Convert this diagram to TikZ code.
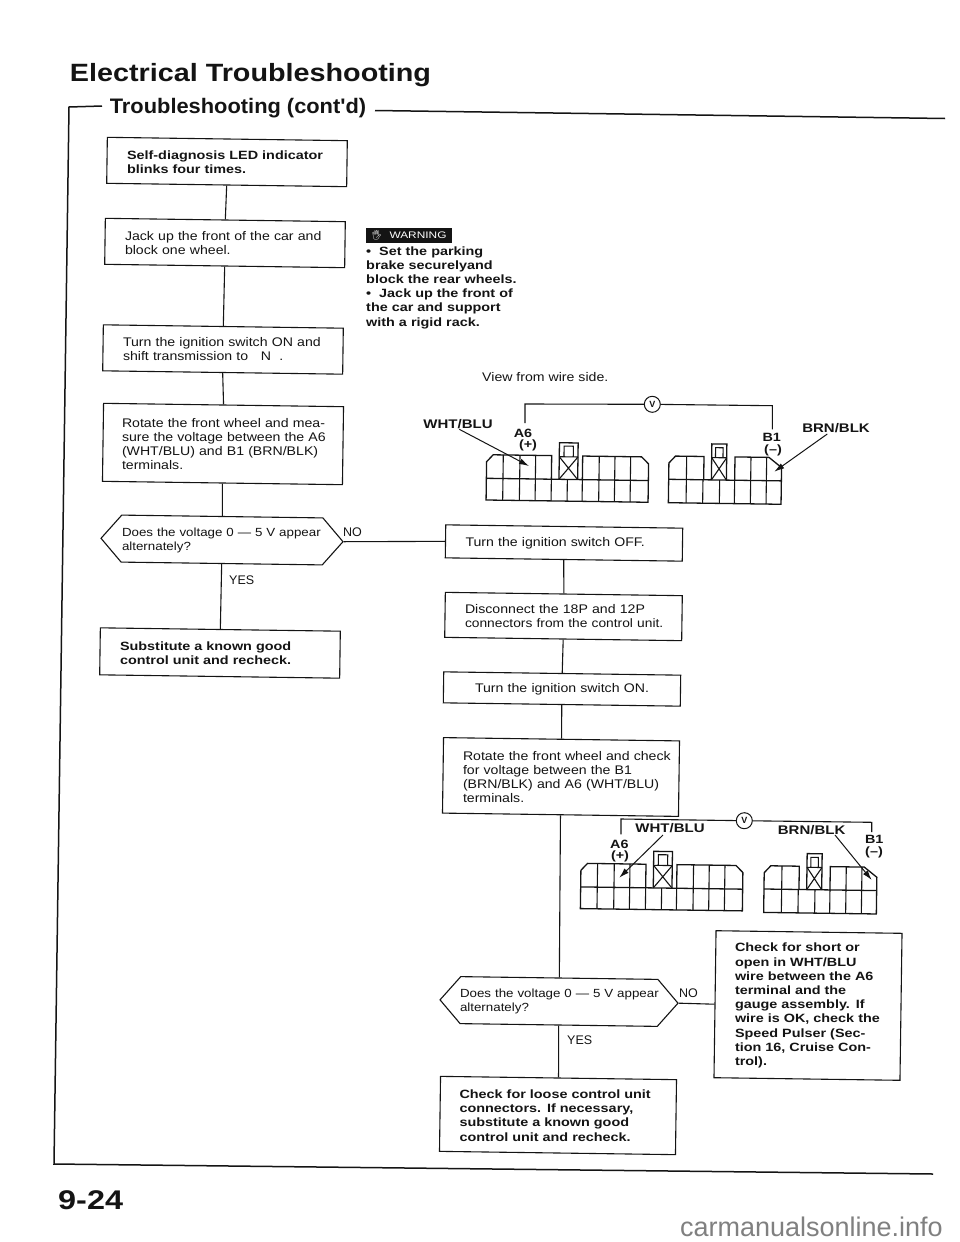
\documentclass[tikz,border=0pt]{standalone}
\usepackage{fontspec}
\setmainfont{Liberation Sans}
\newfontfamily\rgf[FakeStretch=1.13]{Liberation Sans}
\newfontfamily\bdf[FakeStretch=1.2]{Liberation Sans}
\newfontfamily\ttlf[FakeStretch=1.15]{Liberation Sans}
\newfontfamily\stlf[FakeStretch=1.04]{Liberation Sans}
\newfontfamily\wrnf[FakeStretch=1.25]{Liberation Sans}
\newfontfamily\emjf{Noto Emoji}
\usetikzlibrary{arrows.meta,shapes.symbols}
\definecolor{ink}{HTML}{141414}
\newcommand{\jl}[2]{\leavevmode\hbox to #1pt{#2}}
\tikzset{
  tilt/.style={rotate=-0.8},
  wire/.style={draw=ink,line width=1.1pt},
  frameline/.style={draw=ink,line width=1.5pt},
  conn/.style={draw=ink,line width=1.3pt},
  leader/.style={draw=ink,line width=1pt,-{Latex[length=10pt,width=6pt]}},
  lab/.style={text=ink,inner sep=0pt,font=\fontsize{12}{12}\selectfont\bdf\bfseries},
  wlab/.style={text=ink,inner sep=0pt,font=\fontsize{12.5}{12.5}\selectfont\bdf\bfseries},
  ans/.style={text=ink,inner sep=0pt,anchor=west,font=\fontsize{12.5}{12.5}\selectfont},
  vm/.style={draw=ink,circle,line width=1pt,inner sep=0pt,minimum size=16pt,text=ink,font=\fontsize{9}{9}\selectfont\bfseries},
  boxframe/.style 2 args={draw=ink,line width=1.1pt,tilt,inner sep=0pt,minimum width=#1pt,minimum height=#2pt},
  hexframe/.style 2 args={boxframe={#1}{#2},shape=signal,signal to=west and east,signal pointer angle=98},
  txr/.style={text=ink,inner sep=0pt,align=left,text width=#1pt,font=\fontsize{12.5}{14}\selectfont\rgf},
  txb/.style={text=ink,inner sep=0pt,align=left,text width=#1pt,font=\fontsize{12}{14.2}\selectfont\bdf\bfseries},
  txh/.style={text=ink,inner sep=0pt,align=left,text width=#1pt,font=\fontsize{11.8}{14}\selectfont\rgf}
}
\newcommand{\conA}{%
  \draw[conn] (0,7)--(6.5,0)--(65,0)--(65,23.6)--(96,23.6)--(96,0)--(155,0)--(162,7)--(162,45.3)--(0,45.3)--cycle;
  \draw[conn] (0,23.6)--(65,23.6) (96,23.6)--(162,23.6);
  \draw[conn] (72.6,23.6)--(72.6,-13)--(91.3,-13)--(91.3,23.6);
  \draw[wire] (72.6,1)--(91.3,1) (77.3,1)--(77.3,-9.7)--(86.6,-9.7)--(86.6,1);
  \draw[wire] (72.6,1)--(91.3,23.6) (91.3,1)--(72.6,23.6);
  \foreach \x in {16.6,33.3,49,112.6,128.3,144} \draw[wire] (\x,0)--(\x,23.6);
  \foreach \x in {16.6,33.3,49,65,81,96,112.6,128.3,144} \draw[wire] (\x,23.6)--(\x,45.3);
}
\newcommand{\conB}{%
  \draw[conn] (0,7)--(6.5,0)--(35,0)--(35,23.3)--(66,23.3)--(66,0)--(100,0)--(112.7,10)--(112.7,46.7)--(0,46.7)--cycle;
  \draw[conn] (0,23.3)--(35,23.3) (66,23.3)--(112.7,23.3);
  \draw[conn] (42.7,23.3)--(42.7,-12.7)--(57.7,-12.7)--(57.7,23.3);
  \draw[wire] (42.7,1)--(57.7,1) (46.5,1)--(46.5,-9)--(54,-9)--(54,1);
  \draw[wire] (42.7,1)--(57.7,23.3) (57.7,1)--(42.7,23.3);
  \foreach \x in {17.7,82,97.7} \draw[wire] (\x,0)--(\x,23.3);
  \foreach \x in {17.7,34.3,51,66,82,97.7} \draw[wire] (\x,23.3)--(\x,46.7);
}
\begin{document}
\begin{tikzpicture}[x=1pt,y=-1pt]
\useasboundingbox[fill=white] (0,0) rectangle (960,1242);
% titles
\node[text=ink,inner sep=0pt,font=\fontsize{25}{25}\selectfont\ttlf\bfseries] (title) at (250.5,75) {Electrical Troubleshooting};
\node[text=ink,inner sep=0pt,font=\fontsize{21}{21}\selectfont\stlf\bfseries] (sub) at (238,108) {Troubleshooting (cont'd)};
\coordinate (fa) at (102,106);
\coordinate (ftl) at (69,107);
\coordinate (fbl) at (54,1164);
\coordinate (fbr) at (933,1174);
\coordinate (fb) at (375,110.5);
\coordinate (ftr) at (945,118.5);
\draw[frameline] (fa)--(ftl)--(fbl)--(fbr);
\draw[frameline] (fb)--(ftr);
% left column
\node[boxframe={240}{46}] (a1) at (227,162) {};
\node[txb=200] (a1t) at (a1) {\jl{200}{Self-diagnosis LED indicator}\\blinks four times.};
\node[boxframe={240}{46}] (a2) at (225,243) {};
\node[txr=200] (a2t) at (a2) {\jl{200}{Jack up the front of the car and}\\block one wheel.};
\node[boxframe={240}{46}] (a3) at (223,349.5) {};
\node[txr=200] (a3t) at (a3) {\jl{200}{Turn the ignition switch ON and}\\shift transmission to \ \ N \ .};
\node[boxframe={240}{78}] (a4) at (223,444) {};
\node[txr=202] (a4t) at (a4) {\jl{202}{Rotate the front wheel and mea-}\\\jl{202}{sure the voltage between the A6}\\\jl{202}{(WHT/BLU) and B1 (BRN/BLK)}\\terminals.};
\node[hexframe={242}{47}] (d1) at (222,540) {};
\node[txh=200] (d1t) at (d1) {\jl{200}{Does the voltage 0 — 5 V appear}\\alternately?};
\node[boxframe={240}{47}] (a5) at (220,653) {};
\node[txb=200] (a5t) at (a5) {\jl{200}{Substitute a known good}\\control unit and recheck.};
\node[ans] (yes1) at (229,580) {YES};
\node[ans] (no1) at (343,532) {NO};
\draw[wire] (a1.south)--(a2.north);
\draw[wire] (a2.south)--(a3.north);
\draw[wire] (a3.south)--(a4.north);
\draw[wire] (a4.south)--(d1.north);
\draw[wire] (d1.south)--(a5.north);
% warning
\node[fill=ink,text=white,inner sep=0pt,minimum width=86pt,minimum height=14.5pt,font=\fontsize{9.5}{9.5}\selectfont\wrnf] (warn) at (408.7,235.5) {{\emjf 🖐}\ \ WARNING};
\node[text=ink,inner sep=0pt,anchor=west,align=left,font=\fontsize{12}{14.2}\selectfont\bdf\bfseries] (wtxt) at (366,287.5) {•\ \ Set the parking\\brake securelyand\\block the rear wheels.\\•\ \ Jack up the front of\\the car and support\\with a rigid rack.};
\node[text=ink,inner sep=0pt,anchor=west,font=\fontsize{12.5}{14}\selectfont\rgf] (view) at (482,377) {View from wire side.};
% right column
\node[boxframe={237}{33}] (b1) at (564,543) {};
\node[txr=197] (b1t) at (b1) {Turn the ignition switch OFF.};
\node[boxframe={237}{45}] (b2) at (563.5,616.5) {};
\node[txr=197] (b2t) at (b2) {\jl{197}{Disconnect the 18P and 12P}\\\jl{197}{\fontsize{12.2}{14}\selectfont connectors from the control unit.}};
\node[boxframe={237}{31}] (b3) at (562,689) {};
\node[txr=197,align=center] (b3t) at (b3) {Turn the ignition switch ON.};
\node[boxframe={236}{75.5}] (b4) at (561,777) {};
\node[txr=196] (b4t) at (b4) {\jl{196}{Rotate the front wheel and check}\\\jl{196}{for voltage between the B1}\\\jl{196}{(BRN/BLK) and A6 (WHT/BLU)}\\terminals.};
\node[hexframe={238}{47}] (d2) at (559,1001.5) {};
\node[txh=198] (d2t) at (d2) {\jl{198}{Does the voltage 0 — 5 V appear}\\alternately?};
\node[boxframe={186}{147}] (c1) at (808,1005.5) {};
\node[txb=146] (c1t) at (c1) {\jl{146}{Check for short or}\\\jl{146}{open in WHT/BLU}\\\jl{146}{wire between the A6}\\\jl{146}{terminal and the}\\\jl{146}{gauge assembly. If}\\\jl{146}{wire is OK, check the}\\\jl{146}{Speed Pulser (Sec-}\\\jl{146}{tion 16, Cruise Con-}\\trol).};
\node[boxframe={236}{75}] (c2) at (558,1115.5) {};
\node[txb=197] (c2t) at (c2) {\jl{197}{Check for loose control unit}\\\jl{197}{connectors. If necessary,}\\\jl{197}{substitute a known good}\\control unit and recheck.};
\node[ans] (yes2) at (567,1040) {YES};
\node[ans] (no2) at (679,993) {NO};
\draw[wire] (d1.east)--(b1.west);
\draw[wire] (b1.south)--(b2.north);
\draw[wire] (b2.south)--(b3.north);
\draw[wire] (b3.south)--(b4.north);
\draw[wire] (b4.south)--(d2.north);
\draw[wire] (d2.south)--(c2.north);
\draw[wire] (d2.east)--(c1.west);
% upper connectors
\begin{scope}[shift={(486.7,454.7)},rotate=-0.8]\conA\end{scope}
\begin{scope}[shift={(669,456)},rotate=-0.8]\conB\end{scope}
\node[vm] (v1) at (652.3,404.3) {V};
\coordinate (a6t) at (525,423);
\coordinate (a6c) at (525,404);
\coordinate (b1t) at (772.3,429.3);
\coordinate (b1c) at (772.3,405.7);
\draw[wire] (a6t)--(a6c)--(v1)--(b1c)--(b1t);
\node[lab] (a61) at (523,433) {A6};
\node[lab] (ap1) at (528,445) {(+)};
\node[lab] (b11) at (771.7,437.3) {B1};
\node[lab] (bm1) at (773,450) {(–)};
\node[wlab] (w1) at (458,424) {WHT/BLU};
\node[wlab] (k1) at (836,428) {BRN/BLK};
\coordinate (w1s) at (459.3,429.3);
\coordinate (w1a) at (529,466);
\coordinate (k1s) at (827.3,434);
\coordinate (k1a) at (774.3,471.7);
\draw[leader] (w1s)--(w1a);
\draw[leader] (k1s)--(k1a);
% lower connectors
\begin{scope}[shift={(581,863.3)},rotate=-0.8]\conA\end{scope}
\begin{scope}[shift={(764.3,865.7)},rotate=-0.8]\conB\end{scope}
\node[vm] (v2) at (744.3,820.7) {V};
\coordinate (a6b) at (621,834.3);
\coordinate (a6d) at (621,819);
\coordinate (b1b) at (871.7,832);
\coordinate (b1d) at (871.7,822.3);
\draw[wire] (a6b)--(a6d)--(v2)--(b1d)--(b1b);
\node[lab] (a62) at (619.3,844) {A6};
\node[lab] (ap2) at (620,856) {(+)};
\node[lab] (b12) at (874.2,839) {B1};
\node[lab] (bm2) at (874,852.7) {(–)};
\node[wlab] (w2) at (670,828.3) {WHT/BLU};
\node[wlab] (k2) at (811.6,830) {BRN/BLK};
\coordinate (w2s) at (663,835);
\coordinate (w2a) at (619.3,877.7);
\coordinate (k2s) at (835,835);
\coordinate (k2a) at (871.7,880);
\draw[leader] (w2s)--(w2a);
\draw[leader] (k2s)--(k2a);
% page number and mark
\node[text=ink,inner sep=0pt,anchor=west,font=\fontsize{27}{27}\selectfont\bdf\bfseries] (page) at (58,1200) {9-24};
\node[text=black!50,inner sep=0pt,anchor=east,font=\fontsize{27}{27}\selectfont] (mark) at (943,1227) {carmanualsonline.info};
\end{tikzpicture}
\end{document}
